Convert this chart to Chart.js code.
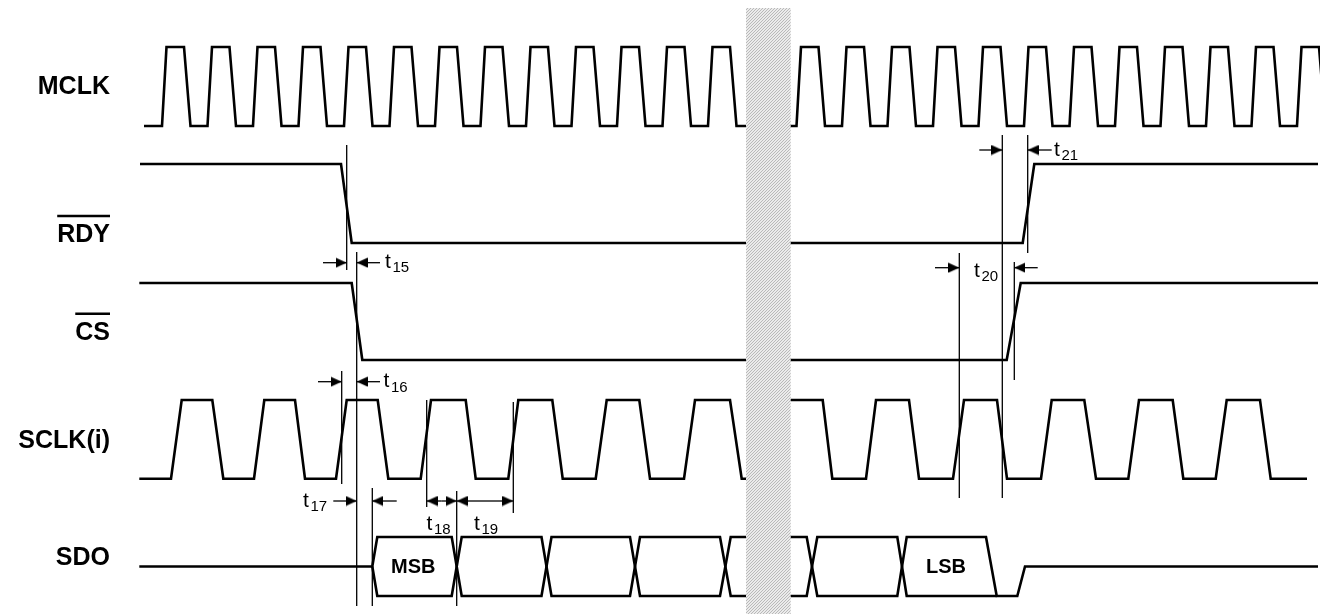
<!DOCTYPE html>
<html>
<head>
<meta charset="utf-8">
<title>Serial read timing</title>
<script src="https://cdn.jsdelivr.net/npm/chart.js@4.4.1/dist/chart.umd.min.js"></script>
<style>
    html, body { margin: 0; padding: 0; background: #fff; }
    #wrap { position: relative; width: 1320px; height: 614px; }
</style>
</head>
<body>
<div id="wrap"><canvas id="timing"></canvas></div>
<script>
// Time axis is in diagram units (0..1320). Level 0 = low, 1 = high, 0.5 = hi-Z.
var signalNames = ['MCLK', 'RDY', 'CS', 'SCLK(i)', 'SDO'];
var activeLow = [false, true, true, false, false];

// MCLK rising edges (start of edge), before and after the break
var mclkRiseLeft = [162, 207.5, 253, 298.5, 344, 389.5, 435, 480.5, 526, 571.5, 617, 662.5, 708];
var mclkRiseRight = [796.5, 842, 887.5, 933, 978.5, 1024, 1069.5, 1115, 1160.5, 1206, 1251.5, 1297];
var mclkShape = [4.5, 17.5, 6.5]; // rise, high, fall

var rdyWave = [[140, 1], [341, 1], [351.7, 0], [746, 0], null,
    [790.7, 0], [1022.7, 0], [1034.3, 1], [1318, 1]];

var csWave = [[139.3, 1], [351.7, 1], [362.3, 0], [746, 0], null,
    [790.7, 0], [1006.7, 0], [1020.7, 1], [1318, 1]];

var sclkWave = [[139.3, 0], [171, 0], [181.7, 1], [212.3, 1], [223.3, 0], [254, 0], [264.3, 1], [295, 1],
    [305, 0], [336, 0], [346.7, 1], [377.7, 1], [388.3, 0], [420.7, 0], [431, 1], [465.7, 1], [475.7, 0],
    [508.3, 0], [518.3, 1], [552.3, 1], [562.7, 0], [595.7, 0], [606.7, 1], [639.3, 1], [650, 0], [684, 0],
    [695, 1], [730, 1], [741.7, 0], [746, 0], null,
    [790.7, 1], [822.7, 1], [832.3, 0], [866, 0], [876, 1], [909, 1], [919, 0], [953, 0], [964, 1],
    [997, 1], [1007, 0], [1041, 0], [1051.7, 1], [1084.3, 1], [1096, 0], [1128.3, 0], [1139, 1],
    [1172.7, 1], [1183.3, 0], [1215.7, 0], [1226.7, 1], [1260, 1], [1270.7, 0], [1307, 0]];

// SDO bus: two traces that cross at every bit change
var sdoUpper = [[139.3, 0.5], [372.3, 0.5], [377.3, 1], [451.7, 1], [461.7, 0], [541.5, 0], [551.5, 1],
    [630, 1], [640, 0], [720, 0], [730.7, 1], [746, 1], null,
    [790.7, 1], [806.7, 1], [817.3, 0], [897.3, 0], [906.7, 1], [986, 1], [996.7, 0], [1017.3, 0],
    [1025, 0.5], [1318, 0.5]];
var sdoLower = [[372.3, 0.5], [377.3, 0], [451.7, 0], [461.7, 1], [541.5, 1], [551.5, 0], [630, 0],
    [640, 1], [720, 1], [730.7, 0], [746, 0], null,
    [790.7, 0], [806.7, 0], [817.3, 1], [897.3, 1], [906.7, 0], [996.7, 0]];
var sdoWords = [['MSB', 413.3], ['LSB', 946]];

// timing references: [x, yFrom, yTo]
var guideLines = [[346.7, 145, 270], [356.7, 252, 606], [341.7, 371, 484], [372.3, 488, 606],
    [426.7, 400, 507], [456.7, 491, 606], [513.3, 402, 513],
    [959.3, 253, 498], [1014.3, 262, 380], [1002.3, 135, 498], [1027.7, 135, 253]];

// arrows: [from, to (head), y]
var arrows = [[323, 346.7, 262.7], [380, 356.7, 262.7],
    [318, 341.7, 381.7], [380, 356.7, 381.7],
    [333.3, 356.7, 501], [396.7, 372.3, 501],
    [441.7, 426.7, 501], [441.7, 456.7, 501],
    [485, 456.7, 501], [485, 513.3, 501],
    [935, 959.3, 267.7], [1037.7, 1014.3, 267.7],
    [979.3, 1002.3, 150], [1051.7, 1027.7, 150]];

// timing parameter labels: [subscript, x, baseline]
var timingLabels = [['15', 385, 267.5], ['16', 383.5, 387], ['17', 303, 506.5], ['18', 426.5, 529.5],
    ['19', 474, 529.5], ['20', 974, 276.5], ['21', 1054, 155.5]];

var breakBand = [746, 790.7];

// lane geometry (y of high / low level) and label baselines
var lanes = [{ hi: 47, lo: 126 }, { hi: 164, lo: 243 }, { hi: 283, lo: 360 }, { hi: 400, lo: 478.7 }, { hi: 537, lo: 596 }];
var labelBaseline = [94.3, 242.3, 340, 448, 565];
var LINE_W = 2.6;
var THIN_W = 1.3;

/*
 * wave [t, level] list -> chart points on a lane
 */
function toPoints(wave, lane) {
    return wave.map(function (p) {
        if (!p) return { x: (breakBand[0] + breakBand[1]) / 2, y: null };
        return { x: p[0], y: lane.lo + (lane.hi - lane.lo) * p[1] };
    });
}

function clockWave(start, rises, end) {
    var w = [[start, 0]];
    rises.forEach(function (r) {
        w.push([r, 0], [r + mclkShape[0], 1], [r + mclkShape[0] + mclkShape[1], 1],
            [r + mclkShape[0] + mclkShape[1] + mclkShape[2], 0]);
    });
    if (end) w.push([end, 0]);
    return w;
}

function waveSet(points, width) {
    return {
        data: points,
        showLine: true,
        borderColor: '#000',
        borderWidth: width,
        pointRadius: 0,
        fill: false,
        spanGaps: false,
        borderJoinStyle: 'miter',
        borderCapStyle: 'butt'
    };
}

// arrow head image, tip at centre
var arrowHead = document.createElement('canvas');
arrowHead.width = 22;
arrowHead.height = 11;
(function () {
    var g = arrowHead.getContext('2d');
    g.fillStyle = '#000';
    g.beginPath();
    g.moveTo(11, 5.5);
    g.lineTo(0, 0.5);
    g.lineTo(0, 10.5);
    g.closePath();
    g.fill();
})();

// hatched fill for the time break
var hatch = document.createElement('canvas');
hatch.width = 3;
hatch.height = 3;
(function () {
    var g = hatch.getContext('2d');
    g.fillStyle = '#ebebeb';
    g.fillRect(0, 0, 3, 3);
    g.fillStyle = '#b9b9b9';
    for (var i = 0; i < 3; i++) g.fillRect(i, 2 - i, 1, 1);
})();

var datasets = [];
var mclkWave = clockWave(144, mclkRiseLeft, 746).concat([null]).concat(clockWave(790.7, mclkRiseRight, null));
datasets.push(waveSet(toPoints(mclkWave, lanes[0]), LINE_W));
datasets.push(waveSet(toPoints(rdyWave, lanes[1]), LINE_W));
datasets.push(waveSet(toPoints(csWave, lanes[2]), LINE_W));
datasets.push(waveSet(toPoints(sclkWave, lanes[3]), LINE_W));
datasets.push(waveSet(toPoints(sdoUpper, lanes[4]), LINE_W));
datasets.push(waveSet(toPoints(sdoLower, lanes[4]), LINE_W));

guideLines.forEach(function (g) {
    datasets.push(waveSet([{ x: g[0], y: g[1] }, { x: g[0], y: g[2] }], THIN_W));
});

arrows.forEach(function (a) {
    var ds = waveSet([{ x: a[0], y: a[2] }, { x: a[1], y: a[2] }], THIN_W);
    ds.pointRadius = [0, 6];
    ds.pointStyle = arrowHead;
    ds.rotation = a[1] > a[0] ? 0 : 180;
    datasets.push(ds);
});

var textPlugin = {
    id: 'timingText',
    beforeDatasetsDraw: function (chart) {
        var ctx = chart.ctx, xs = chart.scales.x, ys = chart.scales.y;
        var x0 = xs.getPixelForValue(breakBand[0]), x1 = xs.getPixelForValue(breakBand[1]);
        ctx.save();
        ctx.fillStyle = ctx.createPattern(hatch, 'repeat');
        ctx.fillRect(x0, ys.getPixelForValue(8), x1 - x0, ys.getPixelForValue(614) - ys.getPixelForValue(8));
        ctx.restore();
    },
    afterDatasetsDraw: function (chart) {
        var ctx = chart.ctx, xs = chart.scales.x, ys = chart.scales.y;
        ctx.save();
        ctx.fillStyle = '#000';
        ctx.strokeStyle = '#000';

        // signal names
        ctx.font = "bold 25px 'Liberation Sans', Arial, sans-serif";
        ctx.textAlign = 'right';
        ctx.textBaseline = 'alphabetic';
        signalNames.forEach(function (name, i) {
            var x = xs.getPixelForValue(110), y = ys.getPixelForValue(labelBaseline[i]);
            ctx.fillText(name, x, y);
            if (activeLow[i]) {
                var w = ctx.measureText(name).width;
                ctx.lineWidth = 2.4;
                ctx.beginPath();
                ctx.moveTo(x - w, y - 26.3);
                ctx.lineTo(x, y - 26.3);
                ctx.stroke();
            }
        });

        // data words
        ctx.font = "bold 20px 'Liberation Sans', Arial, sans-serif";
        ctx.textAlign = 'center';
        ctx.textBaseline = 'middle';
        sdoWords.forEach(function (w) {
            ctx.fillText(w[0], xs.getPixelForValue(w[1]), ys.getPixelForValue(567.5));
        });

        // timing parameters
        ctx.textAlign = 'left';
        ctx.textBaseline = 'alphabetic';
        timingLabels.forEach(function (t) {
            var x = xs.getPixelForValue(t[1]), y = ys.getPixelForValue(t[2]);
            ctx.font = "21px 'Liberation Sans', Arial, sans-serif";
            ctx.fillText('t', x, y);
            ctx.font = "15px 'Liberation Sans', Arial, sans-serif";
            ctx.fillText(t[0], x + 7.5, y + 4.5);
        });
        ctx.restore();
    }
};

new Chart(document.getElementById('timing'), {
    type: 'scatter',
    data: { datasets: datasets },
    options: {
        responsive: true,
        maintainAspectRatio: false,
        animation: false,
        events: [],
        layout: { padding: 0, autoPadding: false },
        plugins: { legend: { display: false }, tooltip: { enabled: false } },
        scales: {
            x: { type: 'linear', min: 0, max: 1320, display: false },
            y: { type: 'linear', min: 0, max: 614, reverse: true, display: false }
        }
    },
    plugins: [textPlugin]
});
</script>
</body>
</html>
